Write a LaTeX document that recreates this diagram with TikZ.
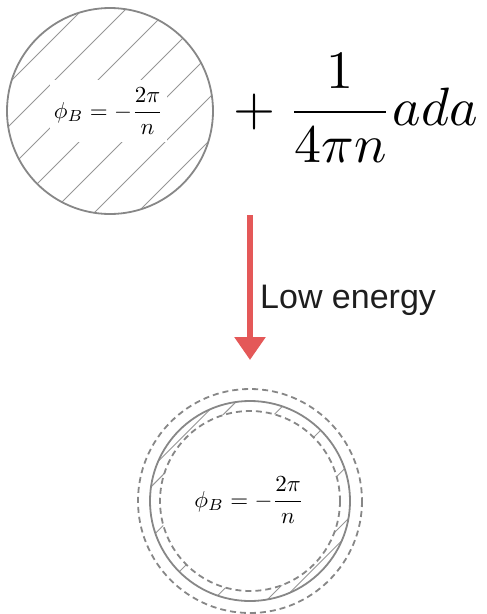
\documentclass[tikz,border=0pt]{standalone}
\usepackage{amsmath}
\usepackage{fontspec}
\newfontfamily\labelfont{Liberation Sans}
\usepackage{tikz}
\usetikzlibrary{arrows.meta}
\definecolor{ringgray}{RGB}{135,135,135}
\definecolor{hatchgray}{RGB}{150,150,150}
\definecolor{arrowred}{RGB}{228,88,88}
\definecolor{labelblack}{RGB}{30,30,30}
\tikzset{
    ringline/.style={
        line width=1.8pt,
        ringgray
    },
    hatchline/.style={
        line width=0.9pt,
        hatchgray
    },
    % dashed rings round the edge
    dashring/.style={
        line width=1.8pt,
        ringgray,
        dash pattern=on 6pt off 4pt
    },
    redarrow/.style={
        line width=6pt,
        arrowred,
        -{Triangle[length=23pt, width=30pt]}
    }
}

\begin{document}
\begin{tikzpicture}[x=1pt, y=-1pt]
            \useasboundingbox (0,0) rectangle (487,614);
            \coordinate (topc) at (110,111);
            \coordinate (botc) at (250,501);

            % hatched disk
            \begin{scope}
              \clip (topc) circle[radius=103];
              \foreach \k in {-3,...,3}
                \draw[hatchline] ({110+21.5*\k-150},{111+21.5*\k+150}) -- ++(300,-300);
            \end{scope}
            \draw[ringline] (topc) circle[radius=103];
            \node [fill=white, inner sep=0pt, minimum width=50.9pt, minimum height=27pt, scale=2.3] (phitop) at (108.5,111) {$\phi_B=-\dfrac{2\pi}{n}$};

            %formula
            \node [scale=5.4] (cs) at (350,108) {${}+\dfrac{1}{4\pi n}ada$};

            % arrow
            \coordinate (arrowtop) at (250,215);
            \coordinate (arrowtip) at (250,360);
            \draw[redarrow] (arrowtop) -- (arrowtip);
            \node [anchor=base west, inner sep=0pt, text=labelblack] (low) at (260,308) {\labelfont\fontsize{34}{40}\selectfont Low energy};

            % ring
            \begin{scope}
              \clip (botc) circle[radius=100];
              \foreach \d in {-93,-80,-44,0,44,82,93}
                \draw[hatchline] ({250+0.7071*\d-150},{501+0.7071*\d+150}) -- ++(300,-300);
            \end{scope}
            \fill[white] (botc) circle[radius=90];
            \draw[ringline] (botc) circle[radius=100];
            \draw[dashring] (botc) circle[radius=112];
            \draw[dashring] (botc) circle[radius=90];
            \node [scale=2.3] (phibot) at (249,500) {$\phi_B=-\dfrac{2\pi}{n}$};

        \end{tikzpicture}
\end{document}
